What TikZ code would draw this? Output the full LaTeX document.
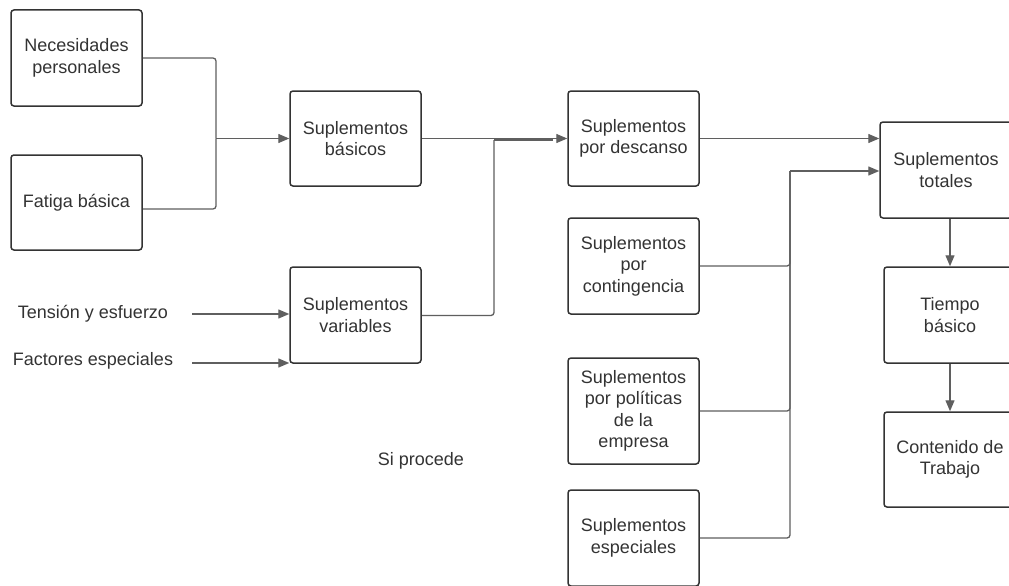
\documentclass[tikz,border=0pt]{standalone}
\usepackage{fontspec}
\setmainfont{Liberation Sans}
\usetikzlibrary{arrows.meta}
\definecolor{boxline}{HTML}{333333}
\definecolor{conline}{HTML}{5F5F5F}
\definecolor{txt}{HTML}{333333}
\tikzset{
  box/.style={draw=boxline, line width=1.5pt, rounded corners=3pt, minimum width=131pt, minimum height=96pt,
    align=center, text=txt, inner sep=0pt, font=\fontsize{18pt}{21.5pt}\selectfont},
  lbl/.style={text=txt, inner sep=0pt, font=\fontsize{18pt}{21.5pt}\selectfont},
  conn/.style={draw=conline, line width=1.3pt, rounded corners=3pt},
  arr/.style={conn, -{Triangle[length=11pt, width=9pt]}}
}
\begin{document}
\begin{tikzpicture}[x=1pt, y=-1pt]
\useasboundingbox (0,0) rectangle (1009,586);
\clip (0,0) rectangle (1009,586);
\fill[white] (0,0) rectangle (1009,586);
% boxes
\node[box] (nec) at (76.5,58) {Necesidades\\personales};
\node[box, minimum height=95pt] (fat) at (76.5,202.5) {Fatiga básica};
\node[box, minimum height=95pt] (bas) at (355.5,138.5) {Suplementos\\básicos};
\node[box] (var) at (355.5,315) {Suplementos\\variables};
\node[box, minimum height=95pt] (des) at (633.5,138.5) {Suplementos\\por descanso};
\node[box] (con) at (633.5,266) {Suplementos\\por\\contingencia};
\node[box, minimum height=106pt] (pol) at (633.5,411) {Suplementos\\por políticas\\de la\\empresa};
\node[box] (esp) at (633.5,538) {Suplementos\\especiales};
\node[box, minimum width=132pt] (tot) at (946,170) {Suplementos\\totales};
\node[box, minimum width=132pt] (tie) at (950,315) {Tiempo\\básico};
\node[box, minimum width=132pt, minimum height=95pt] (cont) at (950,459.5) {Contenido de\\Trabajo};
% free labels
\node[lbl] (ten) at (93,314) {Tensión y esfuerzo};
\node[lbl] (fac) at (93,361) {Factores especiales};
\node[lbl] (si) at (421,461) {Si procede};
% junctions
\coordinate (j1) at (216,138.5);
\coordinate (j2) at (494,140);
\coordinate (j3) at (790,171);
\coordinate (t1) at (192,314);
\coordinate (t2) at (192,363);
% connectors
\draw[conn] (nec.east) -| (j1);
\draw[conn] ([yshift=-6.5pt]fat.east) -| (j1);
\draw[arr] (j1) -- (bas.west);
\draw[arr] (bas.east) -- (des.west);
\draw[conn] ([yshift=-0.5pt]var.east) -| (j2);
\draw[conn] (j2) -- ([xshift=-14pt,yshift=-1.5pt]des.west);
\draw[arr] (t1) -- (t1 -| var.west);
\draw[arr] (t2) -- (t2 -| var.west);
\draw[arr] (des.east) -- (des.east -| tot.west);
\draw[conn] (con.east) -| (j3);
\draw[conn] (pol.east) -| (j3);
\draw[conn] (esp.east) -| (j3);
\draw[arr] (j3) -- (j3 -| tot.west);
\draw[arr] (tot.south -| tie.north) -- (tie.north);
\draw[arr] (tie.south) -- (cont.north);
\end{tikzpicture}
\end{document}
